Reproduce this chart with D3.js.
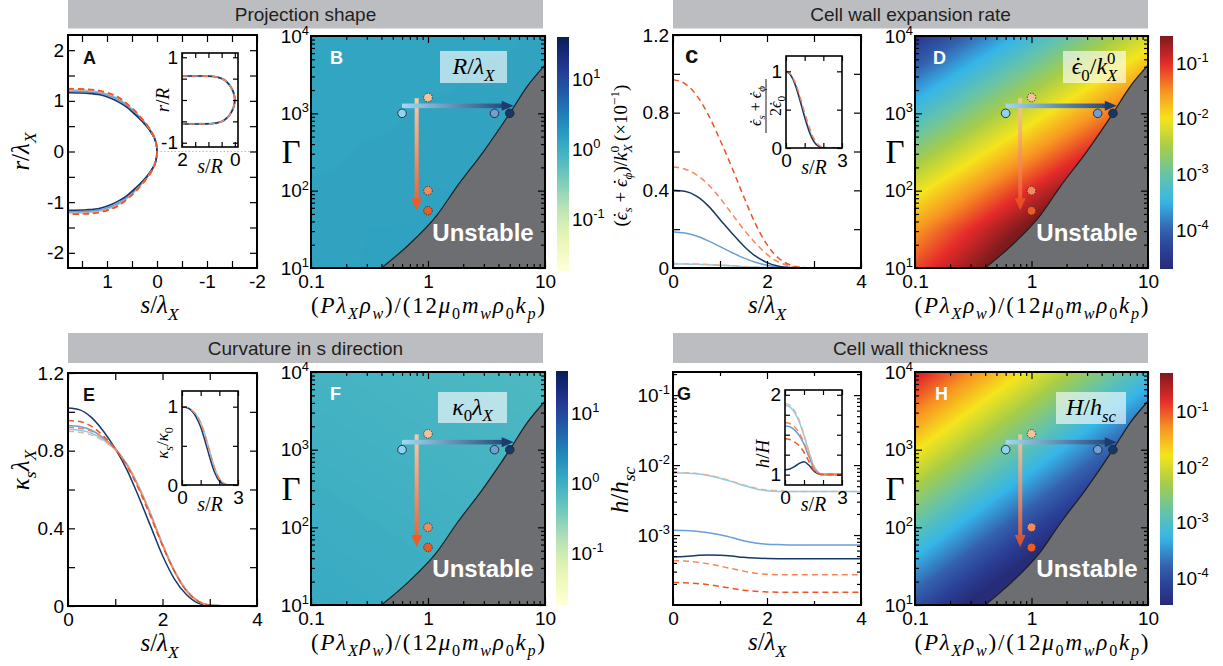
<!DOCTYPE html>
<html><head><meta charset="utf-8">
<script src="https://cdn.jsdelivr.net/npm/d3@7/dist/d3.min.js"></script>
<style>html,body{margin:0;padding:0;background:#fff;}svg{display:block;}</style>
</head><body>
<svg id="chart" width="1223" height="666"></svg>
<script>
// ================= DATA =================
const seriesKeys = ["lightBlue","medBlue","navy","peach","orange","red"];
// phase-diagram positions of the six cases
const caseX = [0.6, 3.7, 5.0, 1.0, 1.0, 1.0];
const caseGamma = [1000, 1000, 1000, 1600, 100, 55];
// stability boundary
const boundaryX = [0.40,0.66,1.19,1.76,2.97,5.0,7.0,10];
const boundaryGamma = [10,19,48,112,318,1000,2200,4200];
// arrows in phase diagrams
const hArrowX = [0.6, 5.4], hArrowGamma = 1250;
const vArrowX = 0.8, vArrowGamma = [1570, 56];

// Panel A: projection shape (z, r), upper half
const shapeZ = [1.78,1.4,1.14,0.9,0.74,0.6,0.47,0.34,0.21,0.12,0.05,0.01,0];
const shapeR = {
  lightBlue:[1.21,1.2,1.17,1.1,1.02,0.92,0.81,0.68,0.53,0.4,0.27,0.125,0],
  medBlue:[1.19,1.18,1.15,1.08,1.0,0.9,0.79,0.66,0.52,0.39,0.265,0.122,0],
  navy:[1.16,1.15,1.12,1.04,0.96,0.87,0.76,0.64,0.5,0.38,0.26,0.12,0],
  peach:[1.22,1.21,1.18,1.11,1.03,0.93,0.82,0.68,0.53,0.4,0.27,0.126,0],
  orange:[1.23,1.22,1.19,1.12,1.04,0.94,0.82,0.69,0.54,0.41,0.275,0.127,0],
  red:[1.24,1.23,1.2,1.13,1.05,0.94,0.83,0.69,0.54,0.41,0.275,0.128,0]
};
const insetShapeZ = [2.0,1.2,0.9,0.7,0.55,0.42,0.3,0.2,0.12,0.06,0.02,0];
const insetShapeR = [0.56,0.56,0.555,0.54,0.515,0.48,0.42,0.35,0.27,0.19,0.1,0];

// Panel C: expansion rate
const cS = [0,0.25,0.5,0.75,1,1.25,1.5,1.75,2,2.25,2.5,2.75,3,4];
const cRate = {
  lightBlue:[0.021,0.021,0.019,0.017,0.014,0.011,0.007,0.004,0.002,0.0005,0,0,0,0],
  medBlue:[0.185,0.18,0.165,0.14,0.11,0.08,0.052,0.03,0.014,0.005,0.001,0,0,0],
  navy:[0.40,0.395,0.37,0.32,0.25,0.18,0.115,0.062,0.028,0.009,0.002,0,0,0],
  peach:[0.023,0.022,0.021,0.018,0.015,0.012,0.008,0.005,0.002,0.001,0,0,0,0],
  orange:[0.52,0.51,0.48,0.43,0.36,0.28,0.20,0.13,0.07,0.03,0.01,0.002,0,0],
  red:[0.97,0.95,0.89,0.79,0.66,0.52,0.37,0.23,0.12,0.05,0.015,0.003,0,0]
};
const ciS = [0,0.25,0.5,0.75,1,1.25,1.5,1.75,2,2.5,3];
const cInset = {
  lightBlue:[1,0.955,0.83,0.64,0.42,0.23,0.09,0.025,0.005,0,0],
  navy:[1,0.95,0.82,0.62,0.40,0.21,0.08,0.02,0,0,0],
  orange:[1,0.96,0.85,0.67,0.46,0.27,0.12,0.04,0.01,0,0]
};

// Panel E: curvature
const eS = [0,0.25,0.5,0.75,1,1.25,1.5,1.75,2,2.25,2.5,2.75,3,3.5,4];
const eKappa = {
  lightBlue:[0.91,0.905,0.89,0.855,0.805,0.73,0.615,0.475,0.32,0.185,0.085,0.027,0.005,0,0],
  medBlue:[0.93,0.925,0.905,0.865,0.81,0.725,0.61,0.47,0.315,0.18,0.08,0.025,0.004,0,0],
  navy:[1.02,1.01,0.97,0.90,0.81,0.70,0.56,0.41,0.26,0.14,0.06,0.015,0.002,0,0],
  peach:[0.90,0.895,0.88,0.85,0.805,0.73,0.615,0.475,0.32,0.185,0.085,0.027,0.005,0,0],
  orange:[0.92,0.915,0.9,0.865,0.81,0.725,0.61,0.47,0.315,0.18,0.08,0.025,0.004,0,0],
  red:[0.955,0.95,0.925,0.875,0.81,0.72,0.60,0.46,0.31,0.18,0.08,0.025,0.004,0,0]
};
const eiS = [0,0.25,0.5,0.75,1,1.25,1.5,1.75,2,2.25,2.5,3];
const eInset = {
  lightBlue:[1,0.99,0.96,0.9,0.8,0.63,0.42,0.22,0.08,0.02,0,0],
  navy:[1,0.99,0.95,0.87,0.74,0.55,0.34,0.16,0.05,0.01,0,0],
  orange:[1,0.99,0.96,0.9,0.79,0.62,0.41,0.21,0.08,0.02,0,0]
};

// Panel G: wall thickness
const gS = [0,0.25,0.5,0.75,1,1.25,1.5,1.75,2,2.25,2.5,3,4];
const gThick = {
  lightBlue:[0.0078,0.0077,0.0075,0.0071,0.0065,0.0058,0.0051,0.0046,0.0043,0.0042,0.0042,0.0042,0.0042],
  medBlue:[0.00117,0.00116,0.00113,0.00108,0.00101,0.00092,0.00083,0.00077,0.00074,0.00073,0.00072,0.00072,0.00072],
  navy:[0.00049,0.000495,0.00051,0.00052,0.000515,0.0005,0.00048,0.000468,0.000462,0.00046,0.00046,0.00046,0.00046],
  peach:[0.0079,0.0078,0.0076,0.0072,0.0066,0.0059,0.0052,0.0047,0.0044,0.0043,0.0042,0.0042,0.0042],
  orange:[0.00043,0.000425,0.00041,0.00039,0.00036,0.00033,0.000305,0.000285,0.000275,0.00027,0.00027,0.00027,0.00027],
  red:[0.00021,0.000208,0.000203,0.000195,0.000184,0.000173,0.000163,0.000157,0.000154,0.000152,0.000152,0.000152,0.000152]
};
const giS = [0,0.25,0.5,0.75,1,1.25,1.5,1.75,2,3];
const gInset = {
  lightBlue:[1.87,1.85,1.78,1.66,1.49,1.29,1.11,1.03,1,1],
  medBlue:[1.61,1.6,1.56,1.49,1.38,1.23,1.09,1.02,1,1],
  navy:[1.06,1.07,1.1,1.14,1.16,1.12,1.05,1.01,1,1],
  peach:[1.89,1.87,1.8,1.68,1.5,1.3,1.12,1.03,1,1],
  orange:[1.65,1.64,1.6,1.52,1.4,1.24,1.09,1.02,1,1],
  red:[1.45,1.44,1.41,1.36,1.28,1.17,1.06,1.01,1,1]
};

// Phase-diagram fields: log10 values on grid (rows: log10 Gamma, cols: log10 x)
const gridLX = [-1,-0.5,0,0.5,1];
const gridLG = [1,1.5,2,2.5,3,3.5,4];
const fieldB = [
  [0.14,0.14,0.15,0.16,0.16],[0.13,0.14,0.14,0.15,0.16],[0.13,0.13,0.14,0.14,0.15],
  [0.12,0.13,0.13,0.14,0.14],[0.12,0.12,0.13,0.13,0.14],[0.12,0.12,0.12,0.13,0.13],[0.11,0.12,0.12,0.12,0.13]];
const fieldD = [
  [-1.15,-0.6,0.0,0.6,1.2],[-1.55,-0.98,-0.4,0.2,0.8],[-2.10,-1.53,-0.95,-0.38,0.19],
  [-2.70,-2.13,-1.56,-0.98,-0.41],[-3.30,-2.73,-2.16,-1.58,-1.01],[-3.90,-3.33,-2.76,-2.19,-1.61],[-4.51,-3.93,-3.37,-2.79,-2.22]];
const fieldF = [
  [0.06,0.04,0.02,0.0,-0.02],[0.04,0.02,0.0,-0.02,-0.04],[0.02,0.0,-0.02,-0.04,-0.06],
  [0.0,-0.02,-0.04,-0.06,-0.08],[-0.02,-0.04,-0.06,-0.08,-0.1],[-0.04,-0.06,-0.08,-0.1,-0.12],[-0.06,-0.08,-0.1,-0.12,-0.14]];
const fieldH = [
  [-3.96,-4.57,-5.17,-5.78,-6.38],[-3.41,-4.02,-4.62,-5.23,-5.83],[-2.86,-3.47,-4.07,-4.68,-5.28],
  [-2.31,-2.92,-3.52,-4.13,-4.73],[-1.76,-2.37,-2.97,-3.58,-4.18],[-1.21,-1.82,-2.42,-3.03,-3.63],[-0.66,-1.27,-1.87,-2.48,-3.08]];

const titles = ["Projection shape","Cell wall expansion rate","Curvature in s direction","Cell wall thickness"];

// ================= STYLE / HELPERS =================
const SANS='"Liberation Sans", Arial, Helvetica, sans-serif';
const SERIF='"Liberation Serif","Times New Roman","DejaVu Serif",serif';
const TFS=19;
const colors={lightBlue:'#86cdf0',medBlue:'#6a9ed8',navy:'#17386b',peach:'#dcb89a',orange:'#f4855a',red:'#ef5424'};
const dashes={lightBlue:null,medBlue:null,navy:null,peach:'6,4',orange:'6,4',red:'6,4'};
const markerFill={lightBlue:'#8fd3f3',medBlue:'#6e9fd6',navy:'#173866',peach:'#f3c29b',orange:'#f28a5c',red:'#ef5a22'};
const dotted={lightBlue:false,medBlue:false,navy:false,peach:true,orange:true,red:true};

const svg=d3.select('#chart');
svg.append('rect').attr('width',1223).attr('height',666).attr('fill','#fff');
const defs=svg.append('defs');
let clipN=0;

function supLabels(a,fs){
  a.selectAll('text').each(function(){
    const t=d3.select(this), s=t.text();
    if(s.indexOf('^')<0) return;
    const [b,e]=s.split('^');
    t.text(null);
    t.append('tspan').text(b);
    t.append('tspan').attr('dy',-fs*0.4).attr('font-size',fs*0.68).text(e);
  });
}
// parts: [text, mode, back]; mode: 'i','r','i_','r_','i^','r^','dot' (dot over previous glyph)
function math(t,parts,fs){
  let shift=0, prev=null, count=0;
  const dots=[];
  parts.forEach(p=>{
    const [s,m,back]=p;
    if(m==='dot'){ dots.push(count-1); return; }
    const sub=m.endsWith('_'), sup=m.endsWith('^');
    const target=sub?fs*0.28:(sup?-fs*0.42:0);
    const ts=t.append('tspan').text(s)
      .attr('font-style',m[0]==='i'?'italic':'normal')
      .attr('font-size',(sub||sup)?fs*0.7:fs)
      .attr('dy',target-shift);
    if(back&&prev) ts.attr('dx',-prev.node().getComputedTextLength());
    shift=target; prev=ts; count+=s.length;
  });
  return dots;
}
function mathText(parent,x,y,parts,fs,opt={}){
  const g=parent.append('g').attr('transform',`translate(${x},${y})${opt.rot?' rotate(-90)':''}`);
  const t=g.append('text').attr('font-family',SERIF).attr('fill','#000')
    .attr('text-anchor',opt.anchor||'middle');
  const dots=math(t,parts,fs);
  if(opt.len) t.attr('textLength',opt.len).attr('lengthAdjust','spacing');
  dots.forEach(idx=>{
    const e=t.node().getExtentOfChar(idx);
    g.append('circle').attr('cx',e.x+e.width*0.5+fs*0.07).attr('cy',e.y+fs*0.25).attr('r',fs*0.055).attr('fill','#000');
  });
  return t;
}

function panelBase(P,x,y,c){
  const g=svg.append('g').attr('transform',`translate(${P.x},${P.y})`);
  if(c.bg) g.append('rect').attr('width',P.w).attr('height',P.h).attr('fill',c.bg);
  const cid='clip'+(clipN++);
  g.append('clipPath').attr('id',cid).append('rect').attr('width',P.w).attr('height',P.h);
  const body=g.append('g').attr('clip-path',`url(#${cid})`);
  const over=g.append('g');
  const fs=c.fs||TFS, tw=c.tw||1.2;
  const mk=(gen,vals,len,fmt,tr,pad)=>{
    if(!vals||!vals.length) return;
    const a=over.append('g');
    if(tr) a.attr('transform',tr);
    a.call(gen.tickValues(vals).tickSizeInner(-len).tickSizeOuter(0).tickPadding(pad).tickFormat(fmt||(()=>'')));
    a.select('.domain').remove();
    a.selectAll('line').attr('stroke','#000').attr('stroke-width',tw);
    a.selectAll('text').attr('font-size',fs).attr('font-family',SANS).attr('fill','#000');
    supLabels(a,fs);
  };
  const pb=c.padX??6, pl=c.padY??4;
  mk(d3.axisBottom(x),c.xMajor,c.majLen,c.xFmt,`translate(0,${P.h})`,pb);
  mk(d3.axisBottom(x),c.xMinor,c.minLen,null,`translate(0,${P.h})`,pb);
  mk(d3.axisTop(x),c.xMajor,c.majLen,null,null,0);
  mk(d3.axisTop(x),c.xMinor,c.minLen,null,null,0);
  mk(d3.axisLeft(y),c.yMajor,c.majLen,c.yFmt,null,pl);
  mk(d3.axisLeft(y),c.yMinor,c.minLen,null,null,pl);
  mk(d3.axisRight(y),c.yMajor,c.majLen,null,`translate(${P.w},0)`,0);
  mk(d3.axisRight(y),c.yMinor,c.minLen,null,`translate(${P.w},0)`,0);
  over.append('rect').attr('width',P.w).attr('height',P.h).attr('fill','none').attr('stroke','#000').attr('stroke-width',c.sw||2);
  return {g,body,over,x,y};
}
function drawLines(body,x,y,xs,series,sw){
  seriesKeys.forEach(k=>{
    if(!series[k]) return;
    const pts=xs.map((v,i)=>[x(v),y(series[k][i])]);
    body.append('path').attr('d',d3.line().curve(d3.curveMonotoneX)(pts))
      .attr('fill','none').attr('stroke',colors[k]).attr('stroke-width',sw||1.5)
      .attr('stroke-dasharray',dashes[k]);
  });
}
function letter(g,x,y,t,col,fs){
  g.append('text').attr('x',x).attr('y',y).text(t).attr('font-family',SANS).attr('font-weight',900)
   .attr('font-size',fs||18).attr('fill',col);
}
function titleBar(x,y,w,h,t){
  svg.append('rect').attr('x',x).attr('y',y).attr('width',w).attr('height',h).attr('fill','#bcbdc0');
  svg.append('text').attr('x',x+w/2).attr('y',y+h/2+6.5).attr('text-anchor','middle').text(t)
    .attr('font-family',SANS).attr('font-size',19).attr('fill','#231f20');
}
const logSup=d=>'10^'+Math.round(Math.log10(d));

// ================= TITLE BARS =================
titleBar(68,0,475,28.5,titles[0]);
titleBar(673,0,475,28.5,titles[1]);
titleBar(68,333,475,30,titles[2]);
titleBar(673,333,475,30,titles[3]);

// ================= LINE PANELS =================
const sLam=[['s','i'],['/','r'],['λ','i'],['X','i_']];
const sR=[['s','i'],['/','r'],['R','i']];
const MFS=25;
const EPS=[['\u03F5','i'],['','dot']];

// ---- A ----
const PA={x:68,y:35,w:189,h:233};
{
  const x=d3.scaleLinear().domain([1.78,-2]).range([0,PA.w]);
  const y=d3.scaleLinear().domain([-2.3,2.3]).range([PA.h,0]);
  const p=panelBase(PA,x,y,{xMajor:[1,0,-1,-2],xMinor:[1.5,0.5,-0.5,-1.5],yMajor:[2,1,0,-1,-2],yMinor:[1.5,0.5,-0.5,-1.5],majLen:7,minLen:7,xFmt:String,yFmt:String,padX:7,padY:4});
  p.body.append('line').attr('x1',x(0)).attr('x2',x(-2)).attr('y1',y(0)).attr('y2',y(0))
    .attr('stroke','#bdbdbd').attr('stroke-width',1).attr('stroke-dasharray','1.5,2');
  const ln=d3.line().x(d=>x(d[0])).y(d=>y(d[1])).curve(d3.curveCatmullRom.alpha(0.5));
  seriesKeys.forEach(k=>{
    const rs=shapeR[k];
    const pts=shapeZ.map((z,i)=>[z,rs[i]]).concat(shapeZ.slice(0,-1).map((z,i)=>[z,-rs[i]]).reverse());
    p.body.append('path').attr('d',ln(pts)).attr('fill','none').attr('stroke',colors[k])
      .attr('stroke-width',1.7).attr('stroke-dasharray',dashes[k]);
  });
  letter(p.over,15,29,'A','#111');
  mathText(svg,PA.x+PA.w/2-3,PA.y+PA.h+45,sLam,MFS);
  mathText(svg,29,PA.y+PA.h/2,[['r','i'],['/','r'],['λ','i'],['X','i_']],MFS,{rot:1});
  // inset
  const IA={x:182,y:53,w:56,h:94};
  const xi=d3.scaleLinear().domain([2,-0.12]).range([0,IA.w]);
  const yi=d3.scaleLinear().domain([-1.1,1.1]).range([IA.h,0]);
  const q=panelBase(IA,xi,yi,{bg:'#fff',xMajor:[2,0],xMinor:[1.5,1,0.5],yMajor:[1,-1],yMinor:[0.5,0,-0.5],majLen:5,minLen:5,xFmt:String,yFmt:String,sw:1.6,padX:6,padY:4});
  const lni=d3.line().x(d=>xi(d[0])).y(d=>yi(d[1])).curve(d3.curveCatmullRom.alpha(0.5));
  const ipts=insetShapeZ.map((z,i)=>[z,insetShapeR[i]]).concat(insetShapeZ.slice(0,-1).map((z,i)=>[z,-insetShapeR[i]]).reverse());
  [['lightBlue',2.2],['navy',1.6],['orange',1.6]].forEach(([k,w])=>{
    q.body.append('path').attr('d',lni(ipts)).attr('fill','none').attr('stroke',colors[k]).attr('stroke-width',w).attr('stroke-dasharray',dashes[k]);
  });
  mathText(svg,IA.x+IA.w/2,IA.y+IA.h+26,sR,20);
  mathText(svg,169,IA.y+IA.h/2,[['r','i'],['/','r'],['R','i']],19,{rot:1});
}

// ---- C ----
const PC={x:673,y:35,w:188,h:233};
{
  const x=d3.scaleLinear().domain([0,4]).range([0,PC.w]);
  const y=d3.scaleLinear().domain([0,1.2]).range([PC.h,0]);
  const p=panelBase(PC,x,y,{xMajor:[0,2,4],xMinor:[1,3],yMajor:[0,0.4,0.8,1.2],yMinor:[0.2,0.6,1.0],majLen:7,minLen:7,xFmt:String,yFmt:String,padX:7,padY:4});
  drawLines(p.body,x,y,cS,cRate,1.5);
  letter(p.over,12,28,'c','#111',24);
  mathText(svg,PC.x+PC.w/2,PC.y+PC.h+45,sLam,MFS);
  mathText(svg,627,PC.y+PC.h/2+4,[['(','r'],...EPS,['s','i_'],[' + ','r'],...EPS,['ϕ','i_'],[')/','r'],['k','i'],['X','i_'],['0','r^',1],['  (×10','r'],['−1','r^'],[')','r']],19,{rot:1});
  const IC={x:786,y:56,w:56,h:92};
  const xi=d3.scaleLinear().domain([0,3]).range([0,IC.w]);
  const yi=d3.scaleLinear().domain([0,1.2]).range([IC.h,0]);
  const q=panelBase(IC,xi,yi,{bg:'#fff',xMajor:[0,3],xMinor:[1,2],yMajor:[0,1],yMinor:[0.5],majLen:5,minLen:5,xFmt:String,yFmt:String,sw:1.6,padX:6,padY:4});
  drawLines(q.body,xi,yi,ciS,cInset,1.5);
  mathText(svg,IC.x+IC.w/2,IC.y+IC.h+26,sR,20);
  // fraction label
  const fg=svg.append('g').attr('transform','translate(766,106) rotate(-90)');
  mathText(fg,0,-5,[...EPS,['s','i_'],[' + ','r'],...EPS,['ϕ','i_']],16);
  fg.append('line').attr('x1',-27).attr('x2',27).attr('y1',0).attr('y2',0).attr('stroke','#000').attr('stroke-width',0.9);
  mathText(fg,0,15,[['2','r'],...EPS,['0','r_']],16);
}

// ---- E ----
const PE={x:68,y:373,w:189,h:233};
{
  const x=d3.scaleLinear().domain([0,4]).range([0,PE.w]);
  const y=d3.scaleLinear().domain([0,1.2]).range([PE.h,0]);
  const p=panelBase(PE,x,y,{xMajor:[0,2,4],xMinor:[1,3],yMajor:[0,0.4,0.8,1.2],yMinor:[0.2,0.6,1.0],majLen:7,minLen:7,xFmt:String,yFmt:String,padX:7,padY:4});
  drawLines(p.body,x,y,eS,eKappa,1.5);
  letter(p.over,15,28,'E','#111');
  mathText(svg,PE.x+PE.w/2-3,PE.y+PE.h+45,sLam,MFS);
  mathText(svg,29,470,[['κ','i'],['s','i_'],['λ','i'],['X','i_']],MFS,{rot:1});
  const IE={x:182,y:391,w:56,h:94};
  const xi=d3.scaleLinear().domain([0,3]).range([0,IE.w]);
  const yi=d3.scaleLinear().domain([0,1.2]).range([IE.h,0]);
  const q=panelBase(IE,xi,yi,{bg:'#fff',xMajor:[0,3],xMinor:[1,2],yMajor:[0,1],yMinor:[0.5],majLen:5,minLen:5,xFmt:String,yFmt:String,sw:1.6,padX:6,padY:4});
  drawLines(q.body,xi,yi,eiS,eInset,1.5);
  mathText(svg,IE.x+IE.w/2,IE.y+IE.h+26,sR,20);
  mathText(svg,168,IE.y+IE.h/2+5,[['κ','i'],['s','i_'],['/','r'],['κ','i'],['0','r_']],17,{rot:1});
}

// ---- G ----
const PG={x:673,y:372,w:188,h:233};
{
  const x=d3.scaleLinear().domain([0,4]).range([0,PG.w]);
  const y=d3.scaleLog().domain([1e-4,0.214]).range([PG.h,0]);
  const minors=[];
  [1e-4,1e-3,1e-2,1e-1].forEach(d=>{for(let m=2;m<=9;m++){const v=d*m; if(v<0.214) minors.push(v);}});
  const p=panelBase(PG,x,y,{xMajor:[0,2,4],xMinor:[1,3],yMajor:[1e-3,1e-2,1e-1],yMinor:minors,majLen:7,minLen:4,xFmt:String,yFmt:logSup,padX:7,padY:3});
  drawLines(p.body,x,y,gS,gThick,1.5);
  letter(p.over,4,28,'G','#111');
  mathText(svg,PG.x+PG.w/2,PG.y+PG.h+45,sLam,MFS);
  mathText(svg,628,490,[['h','i'],['/','r'],['h','i'],['sc','i_']],MFS,{rot:1});
  const IG={x:785,y:390,w:57,h:95};
  const xi=d3.scaleLinear().domain([0,3]).range([0,IG.w]);
  const yi=d3.scaleLinear().domain([0.87,2.06]).range([IG.h,0]);
  const q=panelBase(IG,xi,yi,{bg:'#fff',xMajor:[0,3],xMinor:[1,2],yMajor:[1,2],yMinor:[1.25,1.5,1.75],majLen:5,minLen:5,xFmt:String,yFmt:String,sw:1.6,padX:6,padY:4});
  drawLines(q.body,xi,yi,giS,gInset,1.5);
  mathText(svg,IG.x+IG.w/2,IG.y+IG.h+26,sR,20);
  mathText(svg,769,454,[['h','i'],['/','r'],['H','i']],19,{rot:1});
}

// ================= PHASE PANELS =================
const jetT=[0,0.08,0.167,0.286,0.406,0.525,0.644,0.764,0.883,1];
const jetC=['#262c78','#2a3f96','#3460ad','#35b5e8','#67c4a6','#a6cd48','#f5e51c','#f79322','#e42a2a','#7d1a1d'];
const jet=d3.scaleLinear().domain(jetT).range(jetC).interpolate(d3.interpolateRgb).clamp(true);
const ygb=t=>d3.interpolateYlGnBu(Math.max(0,Math.min(1,t)));
function makeLUT(f){const a=[];for(let k=0;k<256;k++){const c=d3.rgb(f(k/255));a.push([c.r,c.g,c.b]);}return a;}
const lutJet=makeLUT(jet), lutYGB=makeLUT(ygb);

function bilinear(grid,lx,lg){
  const fx=Math.max(0,Math.min(gridLX.length-1.0001,(lx-gridLX[0])/(gridLX[1]-gridLX[0])));
  const fy=Math.max(0,Math.min(gridLG.length-1.0001,(lg-gridLG[0])/(gridLG[1]-gridLG[0])));
  const i=Math.floor(fx), j=Math.floor(fy), u=fx-i, v=fy-j;
  return (1-u)*(1-v)*grid[j][i]+u*(1-v)*grid[j][i+1]+(1-u)*v*grid[j+1][i]+u*v*grid[j+1][i+1];
}
function drawField(body,P,x,y,grid,lut,lo,hi){
  const cv=document.createElement('canvas'); cv.width=P.w; cv.height=P.h;
  const ctx=cv.getContext('2d'); const im=ctx.createImageData(P.w,P.h);
  for(let py=0;py<P.h;py++){
    const lg=Math.log10(y.invert(py+0.5));
    for(let px=0;px<P.w;px++){
      const lx=Math.log10(x.invert(px+0.5));
      let t=(bilinear(grid,lx,lg)-lo)/(hi-lo); t=Math.max(0,Math.min(1,t));
      const c=lut[Math.round(t*255)], o=(py*P.w+px)*4;
      im.data[o]=c[0];im.data[o+1]=c[1];im.data[o+2]=c[2];im.data[o+3]=255;
    }
  }
  ctx.putImageData(im,0,0);
  body.append('image').attr('href',cv.toDataURL()).attr('width',P.w).attr('height',P.h).attr('preserveAspectRatio','none');
}
function colorbar(C,f,lo,hi,ticks){
  const id='cb'+(clipN++);
  const gr=defs.append('linearGradient').attr('id',id).attr('x1',0).attr('y1',1).attr('x2',0).attr('y2',0);
  d3.range(0,1.0001,0.025).forEach(t=>gr.append('stop').attr('offset',t).attr('stop-color',f(t)));
  svg.append('rect').attr('x',C.x).attr('y',C.y).attr('width',C.w).attr('height',C.h).attr('fill',`url(#${id})`);
  const s=d3.scaleLinear().domain([lo,hi]).range([C.y+C.h,C.y]);
  const ax=svg.append('g').attr('transform',`translate(${C.x+C.w},0)`)
    .call(d3.axisRight(s).tickValues(ticks).tickSize(0).tickPadding(3).tickFormat(d=>'10^'+d));
  ax.select('.domain').remove();
  ax.selectAll('text').attr('font-size',19).attr('font-family',SANS).attr('fill','#000');
  supLabels(ax,19);
}
const phaseX=[['(','r'],['P','i'],['λ','i'],['X','i_'],['ρ','i'],['w','i_'],[')/(12','r'],['μ','i'],['0','r_'],['m','i'],['w','i_'],['ρ','i'],['0','r_'],['k','i'],['p','i_'],[')','r']];
const xMinorLog=[0.2,0.3,0.4,0.5,0.6,0.7,0.8,0.9,2,3,4,5,6,7,8,9];
const yMinorLog=[];[10,100,1000].forEach(d=>{for(let m=2;m<=9;m++) yMinorLog.push(d*m);});

function phasePanel(P,cfg){
  const x=d3.scaleLog().domain([0.1,10]).range([0,P.w]);
  const y=d3.scaleLog().domain([10,1e4]).range([P.h,0]);
  const p=panelBase(P,x,y,{xMajor:[0.1,1,10],xMinor:xMinorLog,yMajor:[10,100,1000,10000],yMinor:yMinorLog,majLen:7,minLen:4,xFmt:d=>String(d),yFmt:logSup,padX:7,padY:2});
  const b=p.body;
  drawField(b,P,x,y,cfg.grid,cfg.lut,cfg.lo,cfg.hi);
  const pts=boundaryX.map((v,i)=>[x(v),y(boundaryGamma[i])]);
  const ln=d3.line().curve(d3.curveMonotoneX);
  b.append('path').attr('d',ln(pts)+`L${x(10)},${y(10)}Z`).attr('fill','#6d6e71');
  b.append('path').attr('d',ln(pts)).attr('fill','none').attr('stroke','#1e1e1e').attr('stroke-width',1.2);
  b.append('text').attr('x',172).attr('y',205).attr('text-anchor','middle').text('Unstable')
    .attr('font-family',SANS).attr('font-weight',700).attr('font-size',24).attr('fill','#fff');
  // label box
  b.append('rect').attr('x',cfg.box[0]).attr('y',cfg.box[1]).attr('width',cfg.box[2]).attr('height',cfg.box[3]).attr('fill','#fff').attr('opacity',0.62);
  mathText(b,cfg.box[0]+cfg.box[2]/2,cfg.box[1]+cfg.box[3]/2+7,cfg.label,24);
  // arrows
  const gid='ag'+(clipN++), hid='ah'+(clipN++);
  const vx=x(vArrowX), vy0=y(vArrowGamma[0]), vy1=y(vArrowGamma[1]);
  const gv=defs.append('linearGradient').attr('id',gid).attr('gradientUnits','userSpaceOnUse').attr('x1',0).attr('y1',vy0).attr('x2',0).attr('y2',vy1);
  gv.append('stop').attr('offset',0).attr('stop-color','#f6cba8');
  gv.append('stop').attr('offset',1).attr('stop-color','#ef5a26');
  const va=b.append('g').attr('opacity',cfg.vOp);
  va.append('rect').attr('x',vx-2).attr('y',vy0).attr('width',4).attr('height',vy1-vy0-10).attr('fill',`url(#${gid})`);
  va.append('path').attr('d',`M${vx},${vy1}L${vx-5.5},${vy1-12}L${vx+5.5},${vy1-12}Z`).attr('fill','#ef5a26');
  const hy=y(hArrowGamma), hx0=x(hArrowX[0]), hx1=x(hArrowX[1]);
  const gh=defs.append('linearGradient').attr('id',hid).attr('gradientUnits','userSpaceOnUse').attr('x1',hx0).attr('y1',0).attr('x2',hx1).attr('y2',0);
  gh.append('stop').attr('offset',0).attr('stop-color','#a3d8f2');
  gh.append('stop').attr('offset',1).attr('stop-color','#1c3c70');
  b.append('rect').attr('x',hx0).attr('y',hy-2.3).attr('width',hx1-hx0-10).attr('height',4.6).attr('fill',`url(#${hid})`);
  b.append('path').attr('d',`M${hx1},${hy}L${hx1-12},${hy-5}L${hx1-12},${hy+5}Z`).attr('fill','#1c3c70');
  // markers
  seriesKeys.forEach((k,i)=>{
    b.append('circle').attr('cx',x(caseX[i])).attr('cy',y(caseGamma[i])).attr('r',4.3)
      .attr('fill',markerFill[k]).attr('stroke','#262626').attr('stroke-width',0.9)
      .attr('stroke-dasharray',dotted[k]?'1.3,1.3':null);
  });
  letter(p.over,cfg.lx,cfg.ly,cfg.letter,'#fff');
  mathText(svg,P.x-20,P.y+P.h/2+11,[['Γ','r']],33);
  mathText(svg,P.x+P.w/2,P.y+P.h+45,phaseX,23,{len:234});
  colorbar(cfg.cb,cfg.cbF,cfg.lo,cfg.hi,cfg.cbTicks);
}

const PB={x:311,y:36,w:234,h:232};
const PD={x:915,y:36,w:233,h:232};
const PF={x:311,y:372,w:234,h:233};
const PH={x:915,y:372,w:233,h:233};
phasePanel(PB,{grid:fieldB,lut:lutYGB,lo:-1.74,hi:1.6,box:[129,15,67,32],label:[['R','i'],['/','r'],['λ','i'],['X','i_']],vOp:1,letter:'B',lx:19,ly:28,cb:{x:557,y:37,w:12,h:234},cbF:ygb,cbTicks:[1,0,-1]});
phasePanel(PD,{grid:fieldD,lut:lutJet,lo:-4.7,hi:-0.51,box:[148,15,63,32],label:[...EPS,['0','r_'],['/','r'],['k','i'],['X','i_'],['0','r^',1]],vOp:0.8,letter:'D',lx:18,ly:28,cb:{x:1160,y:36,w:13,h:233},cbF:jet,cbTicks:[-1,-2,-3,-4]});
phasePanel(PF,{grid:fieldF,lut:lutYGB,lo:-1.74,hi:1.6,box:[127,20,69,31],label:[['κ','i'],['0','r_'],['λ','i'],['X','i_']],vOp:1,letter:'F',lx:19,ly:28,cb:{x:556,y:371,w:12,h:234},cbF:ygb,cbTicks:[1,0,-1]});
phasePanel(PH,{grid:fieldH,lut:lutJet,lo:-4.48,hi:-0.3,box:[141,20,70,32],label:[['H','i'],['/','r'],['h','i'],['sc','i_']],vOp:0.85,letter:'H',lx:20,ly:28,cb:{x:1160,y:373,w:13,h:232},cbF:jet,cbTicks:[-1,-2,-3,-4]});
</script>
</body></html>
